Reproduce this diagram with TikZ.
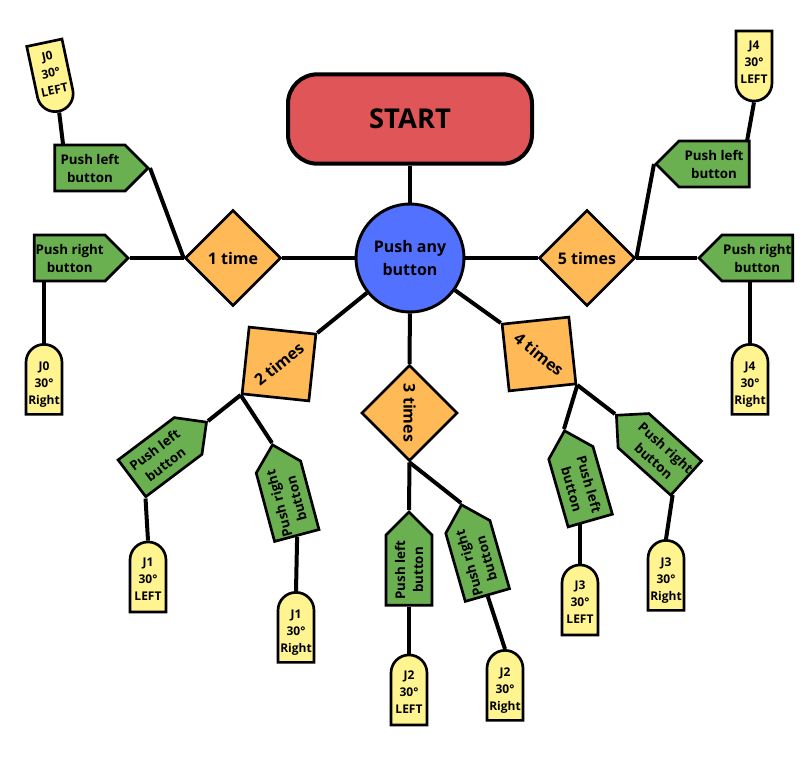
\documentclass[tikz,border=0pt]{standalone}
\usepackage{fontspec}
\setmainfont{Open Sans}
\usepackage{graphicx}
\usetikzlibrary{shapes.geometric,shapes.symbols,shapes.misc,backgrounds,calc}
\definecolor{startRed}{HTML}{E05658}
\definecolor{pushBlue}{HTML}{5271FF}
\definecolor{timesOrange}{HTML}{FFBA57}
\definecolor{buttonGreen}{HTML}{6AAF50}
\definecolor{tagYellow}{HTML}{FFF48F}
\newcommand{\tagtext}[3]{\rotatebox{#3}{\begin{tabular}{@{}c@{}}#1\\30°\\#2\end{tabular}}}

\begin{document}
\begin{tikzpicture}[x=0.75pt,y=-0.75pt,
  link/.style={draw, line width=3pt},
  times/.style={diamond, draw, line width=2pt, fill=timesOrange, minimum size=72pt, inner sep=0pt, font=\fontsize{12}{14}\selectfont\bfseries},
  push/.style={signal, signal pointer angle=90, draw, line width=2pt, fill=buttonGreen, minimum width=70pt, minimum height=34.5pt, inner sep=1pt, align=center, font=\fontsize{10}{13.5}\selectfont\bfseries},
  jtag/.style={rounded rectangle, rounded rectangle west arc=none, draw, line width=2pt, fill=tagYellow, minimum width=52.5pt, minimum height=27pt, inner sep=0pt, font=\fontsize{9}{13}\selectfont\bfseries}]
  \useasboundingbox (0,0) rectangle (808,778);

  \node[draw, line width=3pt, fill=startRed, rounded corners=22pt, minimum width=183pt, minimum height=67pt, font=\fontsize{20.5}{24}\selectfont\bfseries] (start) at (410,119) {START};
  \node[circle, draw, line width=2.2pt, fill=pushBlue, minimum size=81pt, inner sep=0pt, align=center, font=\fontsize{12}{17}\selectfont\bfseries] (pab) at (410,258) {Push any\\button};

  \node[times] (d1) at (233,258) {1 time};
  \node[times] (d5) at (587,258) {5 times};
  \node[times, rotate=39] (d2) at (279,364) {2 times};
  \node[times, rotate=-90] (d3) at (409.5,413) {3 times};
  \node[times, rotate=-39] (d4) at (539,354) {4 times};

  \node[push, signal to=east, anchor=east] (pl0) at (150,168) {Push left\\button};
  \node[push, signal to=east, anchor=east] (pr0) at (130,258) {Push right\\button};
  \node[push, signal to=west, anchor=west] (pl4) at (654,164) {Push left\\button};
  \node[push, signal to=west, anchor=west] (pr4) at (697,258) {Push right\\button};
  \node[push, signal to=east, anchor=east, rotate=37] (pl1) at (208,421) {Push left\\button};
  \node[push, signal to=east, anchor=east, rotate=105] (pr1) at (272,443) {Push right\\button};
  \node[push, signal to=east, anchor=east, rotate=90] (pl2) at (409,510) {Push left\\button};
  \node[push, signal to=east, anchor=east, rotate=106] (pr2) at (461,503) {Push right\\button};
  \node[push, signal to=west, anchor=west, rotate=-74] (pl3) at (564,429) {Push left\\button};
  \node[push, signal to=west, anchor=west, rotate=-42] (pr3) at (615,414) {Push right\\button};

  \node[jtag, rotate=-78] (j0l) at (51,74) {\tagtext{J0}{LEFT}{90}};
  \node[jtag, rotate=90] (j0r) at (44,384) {\tagtext{J0}{Right}{-90}};
  \node[jtag, rotate=-90] (j4l) at (754,63) {\tagtext{J4}{LEFT}{90}};
  \node[jtag, rotate=90] (j4r) at (750,384) {\tagtext{J4}{Right}{-90}};
  \node[jtag, rotate=90] (j1l) at (148,580) {\tagtext{J1}{LEFT}{-90}};
  \node[jtag, rotate=90] (j1r) at (296,632) {\tagtext{J1}{Right}{-90}};
  \node[jtag, rotate=90] (j2l) at (409,693) {\tagtext{J2}{LEFT}{-90}};
  \node[jtag, rotate=90] (j2r) at (505,690) {\tagtext{J2}{Right}{-90}};
  \node[jtag, rotate=90] (j3l) at (580,603) {\tagtext{J3}{LEFT}{-90}};
  \node[jtag, rotate=90] (j3r) at (666,580) {\tagtext{J3}{Right}{-90}};

  \begin{scope}[on background layer]
    \path[link] (start) -- (pab);
    \path[link] (pab) -- (d1);
    \path[link] (pab) -- (d5);
    \path[link] (pab) -- (d2.east);
    \path[link] (pab) -- (d3);
    \path[link] (pab) -- (d4.west);
    \path[link] (d1.west) -- (pl0.east);
    \path[link] (d1.west) -- (pr0.east);
    \path[link] (d5.east) -- (pl4.west);
    \path[link] (d5.east) -- (pr4.west);
    \path[link] (d2.west) -- (pl1.east);
    \path[link] (d2.west) -- (pr1.east);
    \path[link] (d3.east) -- (pl2.east);
    \path[link] (d3.east) -- (pr2.east);
    \path[link] (d4.east) -- (pl3.west);
    \path[link] (d4.east) -- (pr3.west);
    \path[link] (j0l.east) -- ($(pl0.north west)+(10,4)$);
    \path[link] (j0r.east) -- (j0r.east |- pr0.south);
    \path[link] (j4l.east) -- ($(pl4.north east)+(-4,4)$);
    \path[link] (j4r.east) -- (j4r.east |- pr4.south);
    \path[link] (j1l.east) -- (pl1.south west);
    \path[link] (j1r.east) -- (pr1.west);
    \path[link] (j2l.east) -- (pl2.west);
    \path[link] (j2r.east) -- (pr2.west);
    \path[link] (j3l.east) -- (j3l.east |- pl3.east);
    \path[link] (j3r.east) -- (pr3.south east);
  \end{scope}
\end{tikzpicture}
\end{document}
